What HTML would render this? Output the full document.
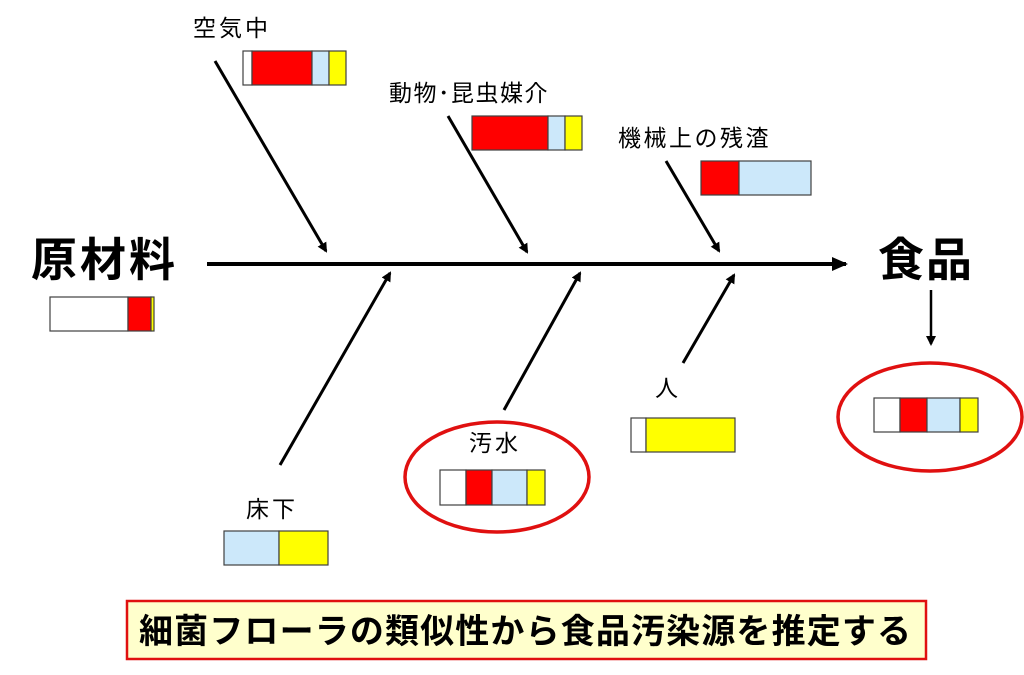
<!DOCTYPE html>
<html><head><meta charset="utf-8"><style>
html,body{margin:0;padding:0;background:#fff;}
svg{display:block;}
text{font-family:"Liberation Sans","Noto Sans CJK JP",sans-serif;fill:#000;}
</style></head><body>
<svg width="1024" height="675" viewBox="0 0 1024 675" xmlns="http://www.w3.org/2000/svg">
<defs>
<marker id="a" markerWidth="10" markerHeight="10" refX="8" refY="5" orient="auto" markerUnits="userSpaceOnUse">
<path d="M0,0 L10,5 L0,10 z" fill="#000"/></marker>
<marker id="b" markerWidth="16" markerHeight="14" refX="14" refY="7" orient="auto" markerUnits="userSpaceOnUse">
<path d="M0,0 L16,7 L0,14 z" fill="#000"/></marker>
</defs>
<g stroke="#404040" stroke-width="1.2">
<rect x="243" y="51" width="9" height="34" fill="#fff"/><rect x="252" y="51" width="60" height="34" fill="#f00"/><rect x="312" y="51" width="17" height="34" fill="#cce8fa"/><rect x="329" y="51" width="17" height="34" fill="#ff0"/>
<rect x="472" y="116" width="76" height="34" fill="#f00"/><rect x="548" y="116" width="17" height="34" fill="#cce8fa"/><rect x="565" y="116" width="17" height="34" fill="#ff0"/>
<rect x="701" y="161" width="38" height="34" fill="#f00"/><rect x="739" y="161" width="72" height="34" fill="#cce8fa"/>
<rect x="50" y="297" width="78" height="34" fill="#fff"/><rect x="128" y="297" width="23" height="34" fill="#f00"/><rect x="151" y="297" width="3" height="34" fill="#ff0"/>
<rect x="874" y="398" width="26" height="34" fill="#fff"/><rect x="900" y="398" width="27" height="34" fill="#f00"/><rect x="927" y="398" width="33" height="34" fill="#cce8fa"/><rect x="960" y="398" width="18" height="34" fill="#ff0"/>
<rect x="631" y="418" width="15" height="34" fill="#fff"/><rect x="646" y="418" width="89" height="34" fill="#ff0"/>
<rect x="440" y="470" width="26" height="35" fill="#fff"/><rect x="466" y="470" width="26" height="35" fill="#f00"/><rect x="492" y="470" width="35" height="35" fill="#cce8fa"/><rect x="527" y="470" width="18" height="35" fill="#ff0"/>
<rect x="224" y="531" width="55" height="34" fill="#cce8fa"/><rect x="279" y="531" width="49" height="34" fill="#ff0"/>
</g>
<g stroke="#000" stroke-width="3" fill="none">
<line x1="207" y1="264" x2="846" y2="264" stroke-width="4" marker-end="url(#b)"/>
<line x1="215" y1="61" x2="326" y2="251" marker-end="url(#a)"/>
<line x1="448" y1="116" x2="527" y2="252" marker-end="url(#a)"/>
<line x1="666" y1="161" x2="719" y2="251" marker-end="url(#a)"/>
<line x1="280" y1="465" x2="390" y2="273" marker-end="url(#a)"/>
<line x1="504" y1="410" x2="580" y2="273" marker-end="url(#a)"/>
<line x1="683" y1="363" x2="734" y2="275" marker-end="url(#a)"/>
<line x1="931" y1="290" x2="931" y2="344" stroke-width="2.5" marker-end="url(#a)"/>
</g>
<ellipse cx="497" cy="477" rx="92" ry="55" fill="none" stroke="#e01010" stroke-width="3.5"/>
<ellipse cx="930" cy="417" rx="92" ry="54" fill="none" stroke="#e01010" stroke-width="3.5"/>
<text x="193" y="36" font-size="23" letter-spacing="3">空気中</text>
<text x="389" y="101" font-size="23" letter-spacing="1.5">動物･昆虫媒介</text>
<text x="618" y="146" font-size="23" letter-spacing="2.5">機械上の残渣</text>
<text x="31" y="276" font-size="46" font-weight="bold" letter-spacing="3">原材料</text>
<text x="878" y="276" font-size="46" font-weight="bold" letter-spacing="2">食品</text>
<text x="655" y="396" font-size="23">人</text>
<text x="469" y="451" font-size="23" letter-spacing="3">汚水</text>
<text x="246" y="517" font-size="23" letter-spacing="3">床下</text>
<rect x="127" y="601" width="799" height="58" fill="#ffffcc" stroke="#e01010" stroke-width="2.5"/>
<text x="139" y="643" font-size="34" font-weight="bold" textLength="772" lengthAdjust="spacing">細菌フローラの類似性から食品汚染源を推定する</text>
</svg>
</body></html>
